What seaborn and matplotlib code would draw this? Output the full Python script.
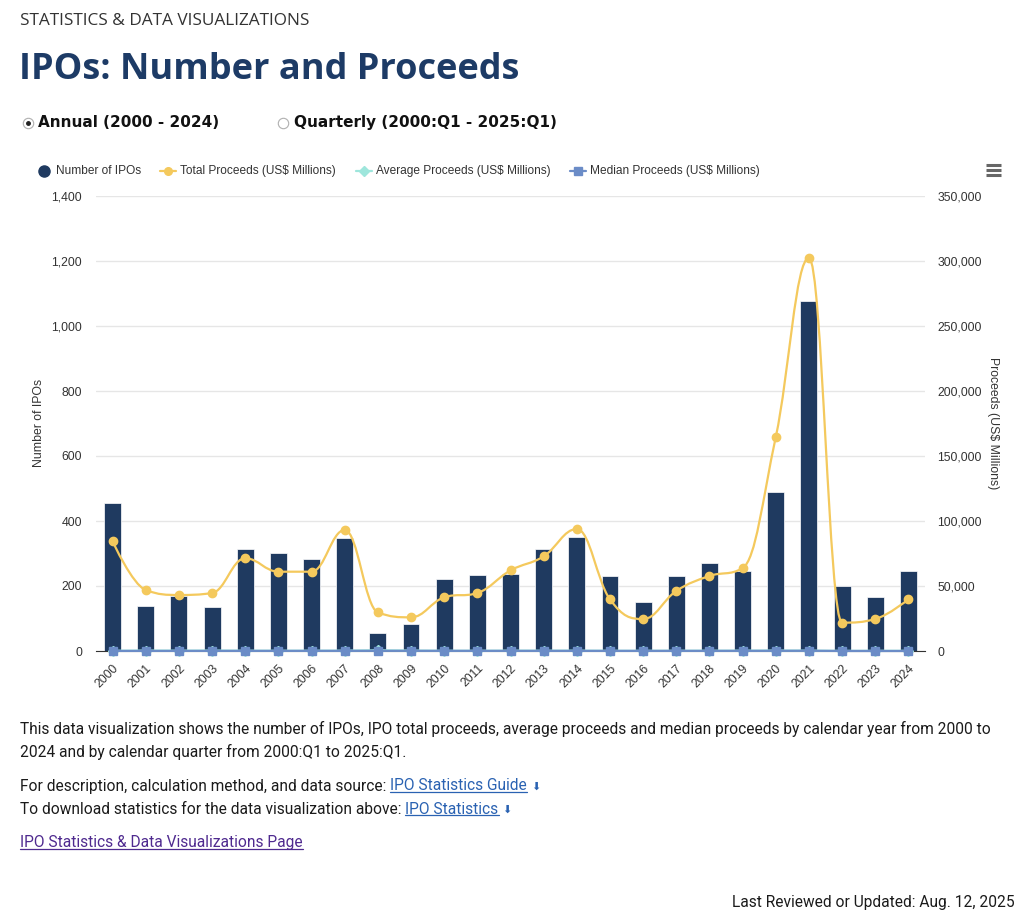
import numpy as np
import pandas as pd
import seaborn as sns
import matplotlib.pyplot as plt
from matplotlib.path import Path
from matplotlib.patches import PathPatch
from matplotlib.lines import Line2D
from matplotlib.ticker import MultipleLocator, FuncFormatter

# data
years = ['2000', '2001', '2002', '2003', '2004', '2005', '2006', '2007', '2008',
         '2009', '2010', '2011', '2012', '2013', '2014', '2015', '2016', '2017',
         '2018', '2019', '2020', '2021', '2022', '2023', '2024']
num_ipos = [456, 140, 170, 134, 315, 301, 284, 347, 56, 82, 221, 235, 238,
            313, 350, 230, 152, 232, 270, 246, 489, 1078, 201, 166, 246]
total_proceeds = [84400, 46900, 43100, 44600, 71300, 61000, 61000, 93100, 29700,
                  25900, 41300, 44600, 62000, 72800, 93800, 39700, 24600, 46200,
                  57700, 63800, 164600, 302300, 21800, 24600, 39700]
avg_proceeds = [185, 335, 254, 333, 226, 203, 215, 268, 530, 316, 187, 190, 260,
                232, 268, 173, 162, 199, 214, 259, 337, 280, 108, 148, 161]
median_proceeds = [60, 72, 85, 90, 100, 96, 110, 120, 150, 140, 115, 110, 105,
                   110, 100, 90, 85, 100, 105, 110, 150, 180, 30, 20, 15]

NAVY = '#1f3a60'
YELLOW = '#f4c95d'
CYAN = '#9ee6dc'
BLUE = '#6b8cc7'

sns.set_style('white')
plt.rcParams['font.family'] = ['Liberation Sans', 'DejaVu Sans']

W, H = 1024, 918
fig = plt.figure(figsize=(W / 100, H / 100), dpi=100)


def fx(px):
    return px / W


def fy(py):
    return 1 - py / H


def spline_path(xs, ys, smoothing=1.5):
    # highcharts-style spline through the points
    n = len(xs)
    left = [None] * n
    right = [None] * n
    d = smoothing + 1
    for i in range(1, n - 1):
        px, py = xs[i], ys[i]
        lx, ly = xs[i - 1], ys[i - 1]
        nx, ny = xs[i + 1], ys[i + 1]
        lcx = (smoothing * px + lx) / d
        lcy = (smoothing * py + ly) / d
        rcx = (smoothing * px + nx) / d
        rcy = (smoothing * py + ny) / d
        corr = 0
        if rcx != lcx:
            corr = (rcy - lcy) * (rcx - px) / (rcx - lcx) + py - rcy
        lcy += corr
        rcy += corr
        if lcy > ly and lcy > py:
            lcy = max(ly, py); rcy = 2 * py - lcy
        elif lcy < ly and lcy < py:
            lcy = min(ly, py); rcy = 2 * py - lcy
        if rcy > ny and rcy > py:
            rcy = max(ny, py); lcy = 2 * py - rcy
        elif rcy < ny and rcy < py:
            rcy = min(ny, py); lcy = 2 * py - rcy
        left[i] = (lcx, lcy)
        right[i] = (rcx, rcy)
    verts = [(xs[0], ys[0])]
    codes = [Path.MOVETO]
    for i in range(1, n):
        c1 = right[i - 1] or (xs[i - 1], ys[i - 1])
        c2 = left[i] or (xs[i], ys[i])
        verts += [c1, c2, (xs[i], ys[i])]
        codes += [Path.CURVE4] * 3
    return Path(verts, codes)


# plot area
x0, x1, y0, y1 = 96, 925, 196, 651
ax = fig.add_axes([fx(x0), fy(y1), fx(x1 - x0), (y1 - y0) / H])

df = pd.DataFrame({'Year': years, 'IPOs': num_ipos})
sns.barplot(data=df, x='Year', y='IPOs', color=NAVY, saturation=1, width=0.51,
            edgecolor='white', linewidth=0.5, ax=ax, zorder=2)
ax.set_xlim(-0.5, len(years) - 0.5)
ax.set_ylim(0, 1400)
ax.yaxis.set_major_locator(MultipleLocator(200))
ax.yaxis.set_major_formatter(FuncFormatter(lambda v, p: f'{int(v):,}'))
ax.grid(axis='y', color='#e6e6e6', linewidth=1, zorder=0)
ax.set_axisbelow(True)
ax.set_xlabel('')
ax.set_ylabel('')
for s in ['top', 'left', 'right']:
    ax.spines[s].set_visible(False)
ax.spines['bottom'].set_color('#333333')
ax.tick_params(axis='y', length=0, pad=10, labelsize=8.8, labelcolor='#333333')
ax.tick_params(axis='x', length=0, pad=8, labelsize=8.8, labelcolor='#333333')
plt.setp(ax.get_xticklabels(), rotation=45, ha='right', rotation_mode='anchor')

ax2 = ax.twinx()
ax2.set_ylim(0, 350000)
ax2.yaxis.set_major_locator(MultipleLocator(50000))
ax2.yaxis.set_major_formatter(FuncFormatter(lambda v, p: f'{int(v):,}'))
for s in ax2.spines.values():
    s.set_visible(False)
ax2.tick_params(axis='y', length=0, pad=9, labelsize=8.8, labelcolor='#333333')

xs = np.arange(len(years))
ax2.add_patch(PathPatch(spline_path(list(xs), total_proceeds), fill=False,
                        edgecolor=YELLOW, linewidth=1.6, zorder=3))
ax2.plot(xs, total_proceeds, linestyle='none', marker='o', markersize=6,
         color=YELLOW, zorder=4, clip_on=False)
ax2.plot(xs, avg_proceeds, color=CYAN, linewidth=1.6, marker='D', markersize=5,
         zorder=3, clip_on=False)
ax2.plot(xs, median_proceeds, color=BLUE, linewidth=1.6, marker='s', markersize=5.5,
         zorder=5, clip_on=False)

# axis titles
fig.text(fx(39), fy(423), 'Number of IPOs', rotation=90, ha='center', va='center',
         fontsize=8.8, color='#333333')
fig.text(fx(993), fy(423), 'Proceeds (US$ Millions)', rotation=270, ha='center',
         va='center', fontsize=8.8, color='#333333')

# legend row
ly = fy(171)
items = [(44, 56, 'Number of IPOs', NAVY, 'o', False),
         (168, 180, 'Total Proceeds (US$ Millions)', YELLOW, 'o', True),
         (364, 376, 'Average Proceeds (US$ Millions)', CYAN, 'D', True),
         (578, 590, 'Median Proceeds (US$ Millions)', BLUE, 's', True)]
for mx, tx, label, col, mk, has_line in items:
    if has_line:
        fig.add_artist(Line2D([fx(mx - 8), fx(mx + 8)], [ly, ly], color=col,
                              linewidth=1.6, transform=fig.transFigure))
    ms = 8 if not has_line else 5.5
    fig.add_artist(Line2D([fx(mx)], [ly], marker=mk, markersize=ms, color=col,
                          linestyle='none', transform=fig.transFigure))
    fig.text(fx(tx), ly, label, ha='left', va='center', fontsize=8.6, color='#333333')

# menu icon
for yy in [165, 170, 175]:
    fig.add_artist(Line2D([fx(986), fx(1001)], [fy(yy), fy(yy)], color='#666666',
                          linewidth=2.2, solid_capstyle='butt', transform=fig.transFigure))

# page header
fig.text(fx(20), fy(21), 'STATISTICS & DATA VISUALIZATIONS', ha='left', va='center',
         fontsize=12.4, fontweight='medium', color='#333333',
         family=['Open Sans', 'DejaVu Sans'])
fig.text(fx(19), fy(70), 'IPOs: Number and Proceeds', ha='left', va='center',
         fontsize=26, fontweight='bold', color='#1d3b66', family=['Open Sans', 'DejaVu Sans'])

# radio buttons
for cx, tx, label, sel in [(28, 38, 'Annual (2000 - 2024)', True),
                           (283, 294, 'Quarterly (2000:Q1 - 2025:Q1)', False)]:
    fig.add_artist(Line2D([fx(cx)], [fy(123)], marker='o', markersize=7.5,
                          markerfacecolor='white', markeredgecolor='#b0b0b0',
                          markeredgewidth=0.8, linestyle='none', transform=fig.transFigure))
    if sel:
        fig.add_artist(Line2D([fx(cx)], [fy(123)], marker='o', markersize=2.5,
                              color='#222222', linestyle='none', transform=fig.transFigure))
    fig.text(fx(tx), fy(122.5), label, ha='left', va='center', fontsize=11,
             fontweight='bold', color='#111111', family=['DejaVu Sans'])

# notes under the chart
body = ['Roboto', 'DejaVu Sans']
BODY_FS = 11.2
LINK = '#2a62b2'
fig.text(fx(20), fy(729), 'This data visualization shows the number of IPOs, IPO total proceeds, '
         'average proceeds and median proceeds by calendar year from 2000 to', ha='left',
         va='center', fontsize=BODY_FS, color='#1b1b1b', family=body)
fig.text(fx(20), fy(752), '2024 and by calendar quarter from 2000:Q1 to 2025:Q1.', ha='left',
         va='center', fontsize=BODY_FS, color='#1b1b1b', family=body)

fig.canvas.draw()
rend = fig.canvas.get_renderer()


def underline(t, col):
    bb = t.get_window_extent(renderer=rend)
    yline = bb.y0 + 2
    fig.add_artist(Line2D([bb.x0 / W, bb.x1 / W], [yline / H, yline / H], color=col,
                          linewidth=0.9, transform=fig.transFigure))
    return bb


for ypx, prefix, link in [(786, 'For description, calculation method, and data source: ',
                           'IPO Statistics Guide'),
                          (809, 'To download statistics for the data visualization above: ',
                           'IPO Statistics')]:
    t = fig.text(fx(20), fy(ypx), prefix, ha='left', va='center', fontsize=BODY_FS,
                 color='#1b1b1b', family=body)
    bb = t.get_window_extent(renderer=rend)
    lt = fig.text(bb.x1 / W, fy(ypx), link, ha='left', va='center', fontsize=BODY_FS,
                  color=LINK, family=body)
    lb = underline(lt, LINK)
    fig.text((lb.x1 + 4) / W, fy(ypx + 1), '\u2b07', ha='left', va='center', fontsize=8,
             color=LINK, family=['DejaVu Sans'])

pt = fig.text(fx(20), fy(843), 'IPO Statistics & Data Visualizations Page', ha='left',
              va='center', fontsize=BODY_FS, color='#4f2a8f', family=body)
underline(pt, '#4f2a8f')

fig.text(fx(1015), fy(902), 'Last Reviewed or Updated: Aug. 12, 2025', ha='right',
         va='center', fontsize=BODY_FS, color='#1b1b1b', family=body)

fig.savefig('out.png', dpi=100)
